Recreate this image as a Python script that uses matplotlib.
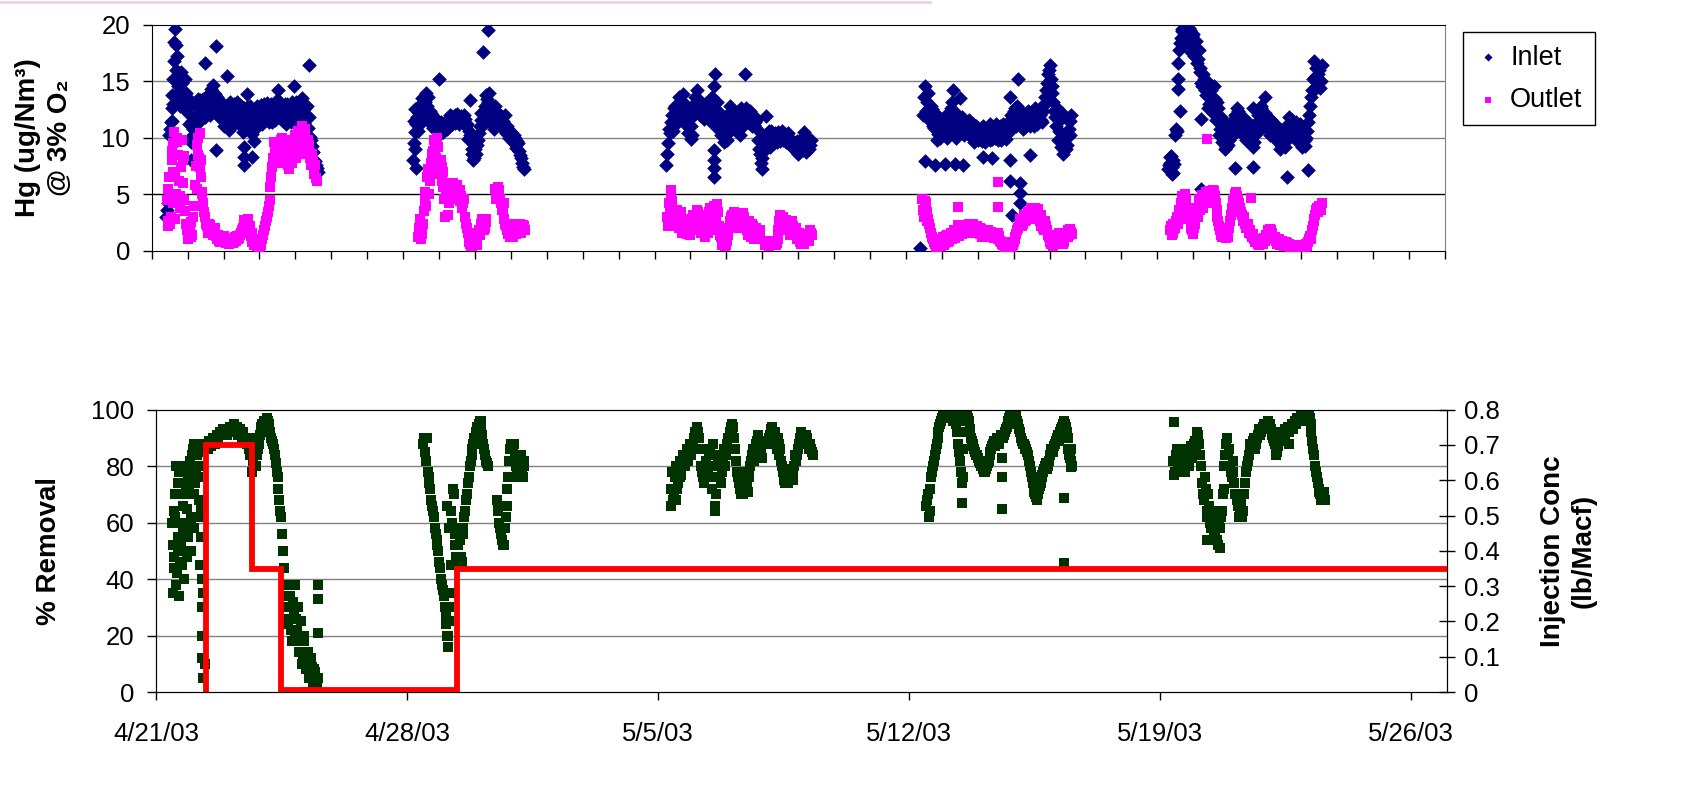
import numpy as np
import matplotlib
matplotlib.use("Agg")
import matplotlib.pyplot as plt
from matplotlib.lines import Line2D

plt.rcParams['font.family'] = ['Liberation Sans', 'DejaVu Sans']

nan = np.nan
step = 0.05   # logger interval in days; x values are days after 4/21/03
# every segment has two readings per interval: "a" on the interval, "b" half an interval later

# ---------------- Hg inlet (ug/Nm3 @ 3% O2) ----------------
inlet_start = [0.40, 7.28, 14.33, 21.48, 28.30]
inlet_1 = [3.0, 4.2, 10.8, 12.6, 15.2, 19.6, 17.2, 15.6, 13.4, 14.8,
           12.6, 14.0, 12.2, 11.2, 9.6, 10.8, 12.9, 11.9, 12.6, 13.3,
           12.1, 12.9, 13.6, 12.3, 13.1, 14.3, 14.7, 13.9, 12.3, 13.1,
           12.5, 11.7, 12.9, 11.6, 12.3, 10.7, 12.6, 11.9, 13.0, 11.5,
           12.3, 11.1, 12.5, 10.5, 11.9, 12.7, 11.3, 12.1, 10.3, 9.7,
           11.6, 12.5, 11.9, 12.9, 11.7, 12.4, 13.1, 12.0, 12.7, 11.4,
           12.9, 12.2, 13.3, 11.8, 12.6, 11.5, 13.0, 12.3, 11.7, 12.8,
           13.2, 11.9, 12.5, 13.1, 11.7, 12.7, 12.1, 11.3, 11.7, 10.9,
           10.1, 9.3, 8.7, 7.9, 7.3]
inlet_1b = [3.6, 10.2, 11.4, 13.8, 16.8, 18.2, 14.6, 12.8, 15.8, 13.2,
            15.2, 12.6, 13.4, 10.0, 11.5, 9.8, 11.8, 13.4, 11.4, 12.2,
            13.4, 11.8, 12.6, 13.8, 12.0, 13.8, 14.0, 12.8, 13.6, 11.8,
            13.2, 12.2, 11.0, 12.8, 11.2, 13.2, 11.0, 12.6, 12.0, 13.2,
            11.8, 12.8, 11.2, 12.6, 10.8, 12.2, 12.8, 11.0, 11.4, 10.8,
            12.8, 11.2, 12.4, 11.2, 13.0, 11.6, 12.6, 11.4, 13.0, 12.0,
            11.6, 12.8, 12.0, 13.2, 11.8, 12.4, 11.2, 13.0, 12.2, 11.4,
            12.6, 11.4, 13.2, 12.2, 12.8, 11.6, 13.0, 12.6, 12.8, 11.8,
            9.8, 8.8, 8.0, 7.6, 7.0]
inlet_2 = [8.0, 10.5, 11.8, 12.8, 11.2, 13.5, 12.4, 14.0, 12.0, 11.4,
           12.2, 10.9, 11.6, 10.6, 11.2, 10.4, 11.0, 10.7, 11.3, 10.8,
           11.5, 11.9, 11.4, 12.0, 11.6, 11.9, 11.5, 11.8, 11.4, 11.7,
           11.2, 10.6, 9.8, 9.0, 8.2, 8.6, 9.8, 11.0, 12.2, 11.5,
           12.8, 13.4, 14.0, 13.0, 11.2, 10.8, 12.4, 11.6, 11.9, 11.2,
           11.5, 10.7, 11.0, 10.3, 10.6, 9.9, 10.2, 9.4, 9.7, 8.8,
           8.2, 7.4]
inlet_2b = [9.5, 11.2, 10.6, 12.2, 13.0, 11.8, 13.2, 12.8, 13.6, 12.4,
            11.2, 11.8, 11.0, 11.6, 10.2, 11.4, 10.5, 11.4, 10.9, 11.2,
            12.0, 11.2, 11.8, 11.3, 12.1, 11.2, 11.9, 11.3, 12.0, 11.0,
            9.9, 10.2, 8.6, 8.0, 9.0, 9.4, 10.4, 11.6, 11.0, 12.4,
            13.8, 13.2, 12.2, 12.0, 11.8, 12.8, 11.4, 12.2, 11.0, 11.8,
            11.2, 10.4, 10.9, 10.0, 10.5, 9.6, 10.0, 9.1, 9.5, 8.5,
            7.8, 7.2]
inlet_3 = [7.6, 9.5, 10.4, 12.0, 11.4, 12.8, 11.9, 13.6, 12.5, 13.9,
           12.2, 11.5, 10.4, 11.8, 10.2, 12.5, 13.6, 14.2, 13.0, 12.3,
           12.8, 11.7, 12.5, 11.9, 12.6, 11.4, 12.9, 15.6, 13.2, 10.8,
           12.1, 11.0, 9.6, 10.9, 9.8, 11.6, 12.4, 11.3, 12.0, 10.8,
           11.5, 10.2, 11.9, 12.4, 11.6, 12.2, 11.8, 11.4, 12.0, 11.1,
           11.6, 9.8, 8.6, 7.2, 8.9, 10.2, 9.4, 10.6, 9.6, 10.3,
           9.5, 10.1, 10.5, 10.0, 10.4, 9.8, 10.3, 9.7, 9.9, 9.4,
           9.2, 9.6, 9.0, 9.3, 8.8, 9.5, 8.9, 9.8, 9.2, 10.0,
           9.4]
inlet_3b = [8.6, 10.8, 11.4, 10.6, 12.6, 11.2, 12.8, 13.0, 12.0, 12.6,
            13.0, 11.0, 12.2, 11.0, 11.8, 13.0, 12.6, 13.4, 12.0, 13.2,
            12.2, 13.0, 11.8, 12.8, 12.2, 13.6, 14.6, 11.6, 12.4, 11.6,
            10.2, 11.8, 10.6, 11.2, 10.4, 12.8, 10.8, 12.4, 11.4, 12.2,
            10.8, 12.6, 11.0, 11.2, 12.6, 11.4, 12.4, 11.0, 11.8, 11.4,
            10.8, 9.0, 7.8, 8.2, 9.6, 9.0, 10.2, 9.2, 10.6, 9.9,
            10.4, 9.6, 10.2, 9.7, 10.6, 10.2, 9.6, 10.4, 9.6, 9.8,
            9.4, 8.9, 9.7, 8.6, 9.8, 9.1, 9.6, 8.7, 9.9, 9.0,
            9.8]
inlet_4 = [12.0, 14.6, 13.2, 12.6, 11.8, 12.5, 10.9, 11.6, 10.3, 11.2,
           10.6, 11.4, 10.2, 11.8, 10.7, 11.5, 12.2, 11.0, 11.7, 10.4,
           11.3, 10.8, 11.6, 10.5, 11.2, 10.3, 11.0, 10.1, 10.8, 9.9,
           10.6, 10.0, 10.9, 9.7, 10.5, 10.1, 10.8, 9.8, 10.4, 10.9,
           10.0, 10.7, 10.2, 11.0, 10.3, 10.8, 9.9, 10.6, 11.2, 12.0,
           11.3, 12.6, 11.5, 12.2, 11.4, 11.9, 11.2, 12.1, 11.6, 12.0,
           11.3, 11.9, 11.5, 12.2, 11.7, 12.0, 11.4, 12.4, 13.6, 14.8,
           16.0, 15.2, 14.0, 12.4, 11.0, 9.8, 11.6, 10.4, 8.6, 11.8,
           9.4, 10.8, 11.5]
inlet_4b = [13.6, 12.4, 14.0, 11.6, 12.8, 11.0, 12.2, 9.8, 11.8, 10.0,
            11.6, 10.4, 12.0, 10.0, 11.2, 12.6, 10.6, 11.2, 10.0, 12.0,
            10.6, 11.8, 10.2, 11.4, 10.8, 11.6, 10.4, 11.2, 9.6, 11.0,
            9.8, 10.6, 10.2, 11.0, 9.6, 10.8, 10.2, 11.2, 9.9, 10.5,
            11.2, 9.8, 10.9, 9.8, 11.2, 10.2, 10.8, 11.4, 10.6, 11.6,
            12.4, 11.0, 12.8, 11.6, 12.4, 10.8, 11.6, 11.0, 12.4, 11.0,
            12.2, 11.0, 12.6, 11.2, 12.4, 11.6, 12.8, 13.0, 14.2, 15.6,
            16.4, 14.6, 13.2, 11.8, 12.6, 10.6, 9.2, 12.2, 10.0, 9.0,
            11.6, 10.2, 12.0]
inlet_5 = [7.2, 7.8, 7.4, 8.0, 10.2, 10.6, 17.8, 18.8, 19.6, 18.9,
           19.8, 18.4, 19.5, 17.6, 19.2, 18.0, 16.6, 17.8, 15.8, 14.6,
           15.2, 13.8, 14.4, 13.0, 14.2, 12.2, 13.4, 11.6, 12.6, 10.8,
           9.6, 10.4, 9.2, 10.6, 9.8, 11.4, 10.6, 12.0, 11.2, 12.4,
           10.9, 11.5, 10.5, 11.2, 10.2, 10.9, 9.8, 10.4, 9.6, 11.2,
           12.0, 11.3, 12.6, 11.6, 12.2, 10.9, 11.4, 10.5, 11.0, 10.1,
           10.6, 9.6, 10.3, 9.4, 10.0, 9.2, 10.4, 11.2, 10.6, 11.6,
           10.8, 11.4, 10.2, 10.8, 9.6, 10.4, 9.3, 10.0, 11.4, 12.8,
           14.2, 16.8, 15.4, 14.6, 16.0, 15.0]
inlet_5b = [7.6, 8.4, 6.9, 7.7, 10.8, 16.6, 18.4, 19.4, 18.2, 19.8,
            18.6, 19.7, 18.8, 19.0, 17.2, 18.6, 17.0, 16.2, 14.8, 15.6,
            14.2, 15.0, 12.6, 13.6, 12.6, 14.6, 11.6, 13.2, 10.2, 11.8,
            10.8, 9.0, 11.2, 9.4, 10.6, 10.2, 11.6, 10.4, 12.6, 11.0,
            12.0, 10.2, 11.6, 9.8, 11.4, 10.4, 11.0, 9.2, 10.6, 10.4,
            11.6, 12.8, 11.0, 12.0, 11.2, 11.8, 10.2, 11.6, 10.4, 11.2,
            9.8, 10.8, 9.0, 10.6, 9.6, 10.8, 9.8, 11.8, 10.2, 11.0,
            10.2, 11.0, 9.6, 11.2, 9.2, 10.8, 9.8, 10.6, 12.0, 13.6,
            15.2, 14.2, 16.2, 15.6, 14.4, 16.4]
inlet_odd_day = [1.47, 1.79, 2.09, 4.37, 1.79, 1.10, 2.64, 2.58, 2.58, 2.58,
                 2.79, 3.52, 3.97, 4.17, 0.62, 0.68, 0.72, 0.55, 0.60,
                 7.36, 8.00, 9.23, 9.37, 8.86, 9.83, 7.32, 7.30, 7.34,
                 16.53, 15.66, 15.66, 15.66, 15.66, 15.02, 17.09, 18.15,
                 21.40, 21.53, 21.81, 22.09, 22.37, 22.60, 22.32, 22.28, 22.51, 23.16,
                 23.39, 23.90, 24.45, 24.13, 23.90, 23.90, 24.18, 24.18, 24.18, 23.94,
                 29.23, 29.21, 30.16, 30.67, 31.60, 32.20, 28.63, 28.58, 28.58, 30.67,
                 31.00, 28.35, 28.40]
inlet_odd_val = [16.6, 18.1, 15.5, 16.4, 8.9, 8.0, 13.9, 9.2, 8.3, 7.6,
                 8.3, 14.2, 14.6, 13.5, 18.5, 16.0, 14.0, 11.5, 13.0,
                 7.3, 15.2, 17.6, 19.5, 13.3, 12.0, 9.0, 11.5, 12.5,
                 15.6, 8.9, 8.0, 7.3, 6.5, 9.9, 11.9, 10.5,
                 0.2, 7.9, 7.6, 7.7, 7.7, 7.6, 14.2, 13.2, 13.5, 8.3,
                 8.2, 8.0, 8.5, 15.2, 13.6, 6.2, 6.0, 5.1, 4.2, 3.2,
                 11.7, 5.5, 7.3, 7.4, 6.5, 7.1, 12.4, 14.3, 15.2, 12.6,
                 13.6, 8.3, 6.8]

# ---------------- Hg outlet ----------------
outlet_start = [0.43, 7.42, 14.35, 21.45, 28.35]
outlet_1 = [4.5, 6.5, 3.0, 7.0, 10.5, 5.0, 8.5, 3.8, 9.8, 6.0,
            3.5, 1.8, 1.2, 2.5, 1.4, 4.0, 7.5, 10.0, 10.4, 6.5,
            4.2, 3.0, 2.2, 1.8, 2.3, 2.0, 1.6, 1.3, 1.1, 0.9,
            1.2, 0.8, 1.0, 0.7, 0.9, 0.8, 1.1, 0.8, 1.0, 1.3,
            1.1, 1.6, 2.0, 2.7, 2.4, 2.8, 2.2, 1.6, 1.0, 0.6,
            0.4, 0.3, 0.5, 1.0, 1.8, 2.6, 3.4, 4.5, 6.5, 8.2,
            9.0, 8.2, 9.6, 8.6, 10.0, 9.2, 8.0, 9.4, 7.2, 9.8,
            8.4, 10.2, 8.8, 10.6, 9.4, 11.0, 9.6, 10.2, 8.6, 9.4,
            7.6, 8.0, 7.0, 6.4]
outlet_1b = [2.6, 5.0, 8.8, 4.2, 6.5, 9.6, 4.8, 7.4, 4.6, 8.4,
             2.4, 1.0, 2.0, 1.2, 3.0, 5.8, 9.4, 8.2, 7.4, 5.0,
             3.4, 2.4, 1.6, 2.4, 1.8, 1.4, 2.0, 1.0, 1.4, 0.8,
             0.9, 1.3, 0.8, 1.1, 0.6, 1.0, 0.7, 1.2, 0.9, 1.0,
             1.4, 1.8, 2.4, 2.0, 2.6, 1.8, 1.3, 0.8, 0.5, 0.9,
             0.6, 0.4, 0.8, 1.4, 2.2, 3.0, 4.0, 5.6, 7.4, 9.6,
             8.4, 9.4, 7.8, 9.8, 8.4, 9.8, 8.8, 7.6, 9.0, 7.8,
             9.6, 8.2, 9.8, 8.6, 10.4, 8.8, 10.8, 9.0, 9.8, 8.2,
             8.6, 6.8, 7.6, 6.2]
outlet_2 = [1.2, 2.8, 1.5, 3.5, 5.2, 6.5, 5.0, 7.8, 8.8, 9.8,
            8.2, 9.2, 6.8, 7.4, 5.6, 3.0, 5.5, 4.2, 5.8, 5.2,
            5.6, 4.8, 5.2, 4.4, 4.8, 4.2, 3.0, 2.0, 1.2, 0.6,
            0.4, 0.5, 0.8, 1.2, 1.8, 2.4, 2.6, 2.0, 2.5, nan,
            nan, nan, nan, 5.5, 4.8, 5.4, 4.2, 3.6, 2.8, 2.2,
            1.5, 1.2, 1.6, 2.1, 1.8, 2.2, 1.7, 2.0, 1.9, 2.2]
outlet_2b = [2.0, 1.0, 2.4, 4.4, 4.0, 7.2, 6.2, 8.6, 7.4, 9.0,
             9.6, 7.6, 8.0, 6.2, 4.6, 5.0, 3.2, 6.0, 4.6, 6.0,
             5.0, 5.8, 4.6, 5.4, 3.8, 4.6, 2.4, 1.6, 0.8, 0.4,
             0.6, 0.9, 0.5, 1.6, 1.4, 2.8, 1.8, 2.8, nan, nan,
             nan, nan, nan, 4.6, 5.6, 4.6, 3.6, 4.2, 2.4, 1.8,
             2.0, 1.6, 1.2, 2.4, 1.5, 1.9, 2.4, 1.6, 2.3, 1.8]
outlet_3 = [3.0, 4.2, 5.4, 2.6, 3.6, 2.4, 3.2, 2.2, 2.8, 1.8,
            2.4, 1.5, 1.9, 2.8, 2.2, 3.0, 2.4, 3.4, 2.0, 1.6,
            2.8, 1.2, 3.2, 2.4, 3.8, 2.6, 4.0, 2.8, 4.1, 2.2,
            1.2, 0.6, 0.8, 0.5, 1.4, 2.6, 3.2, 2.5, 3.3, 2.8,
            2.0, 3.2, 2.4, 3.0, 2.6, 1.4, 2.2, 1.6, 2.2, 1.2,
            1.8, 1.0, 1.6, nan, nan, 0.6, 0.9, 0.5, 0.8, 0.6,
            0.9, 0.7, 1.8, 3.2, 2.6, 2.2, 2.7, 1.8, 2.4, 1.6,
            2.2, 1.5, 2.0, 1.2, 0.8, 1.4, 0.6, 1.0, 1.5, 0.9,
            1.6]
outlet_3b = [2.2, 3.6, 4.4, 3.2, 2.2, 3.6, 2.0, 3.4, 1.6, 2.6,
             1.6, 2.6, 1.4, 2.4, 3.2, 1.8, 2.8, 2.4, 3.0, 2.4,
             1.6, 2.6, 1.6, 3.4, 1.8, 3.0, 3.6, 2.0, 3.4, 1.4,
             0.5, 1.2, 0.4, 0.9, 2.0, 3.0, 2.2, 3.4, 2.4, 3.3,
             2.6, 2.2, 3.3, 2.0, 1.8, 2.6, 1.2, 2.4, 1.0, 2.0,
             1.2, 1.8, nan, nan, 0.5, 0.8, 0.4, 0.7, 0.5, 0.8,
             0.5, 1.0, 2.6, 2.8, 3.0, 1.8, 2.6, 2.0, 1.4, 2.6,
             1.8, 1.6, 1.0, 1.6, 0.6, 1.2, 0.8, 1.4, 1.2, 1.8,
             1.4]
outlet_4 = [4.6, 3.0, 4.2, 3.4, 2.4, 1.6, 1.0, 0.6, 0.4, 0.3,
            0.6, 0.9, 0.5, 1.0, 1.4, 0.9, 1.6, 1.2, 1.8, 1.4,
            1.9, 1.5, 2.0, 1.7, 2.3, 1.9, 2.4, 2.0, 1.6, 2.2,
            1.7, 2.0, 1.5, 1.9, 1.4, 1.8, 1.3, 1.6, 1.2, 1.5,
            1.1, 1.4, 1.0, 1.3, 0.8, 0.5, 0.3, 0.4, 0.2, 0.5,
            0.3, 0.8, 1.2, 1.8, 2.2, 2.6, 2.4, 3.0, 2.7, 3.4,
            3.0, 3.6, 3.1, 3.8, 3.4, 3.0, 2.2, 2.6, 1.8, 2.2,
            1.4, 1.0, 0.6, 0.4, 0.8, 1.2, 1.6, 1.0, 1.5, 0.8,
            1.3, 1.8, 1.4, 1.7]
outlet_4b = [3.6, 4.4, 2.6, 2.8, 2.0, 1.2, 0.8, 0.3, 0.6, 0.5,
             0.4, 1.2, 0.7, 1.3, 0.8, 1.4, 1.0, 1.6, 1.1, 1.7,
             1.3, 1.8, 1.5, 2.1, 1.6, 2.2, 1.7, 2.3, 2.4, 1.8,
             2.2, 1.6, 2.0, 1.2, 1.7, 1.5, 1.8, 1.3, 1.7, 1.2,
             1.5, 1.2, 1.6, 0.9, 0.6, 0.8, 0.4, 0.2, 0.6, 0.3,
             0.5, 1.0, 1.5, 2.0, 2.8, 2.2, 3.2, 2.6, 3.0, 3.2,
             3.8, 2.8, 3.4, 3.2, 3.7, 2.6, 3.2, 2.0, 2.6, 1.8,
             1.2, 0.8, 0.9, 0.6, 1.0, 1.4, 0.8, 1.3, 0.6, 1.2,
             1.6, 1.2, 1.9, 1.5]
outlet_5 = [1.8, 1.4, 2.4, 2.0, 3.0, 3.6, 4.2, 4.8, 3.8, 4.6,
            2.8, 3.4, 2.0, 1.5, 2.4, 3.8, 4.6, 3.6, 4.9, 4.2,
            5.2, 4.4, 5.3, 4.6, 5.4, 4.8, 3.6, 2.6, 1.8, 1.2,
            1.6, 1.1, 1.5, 2.0, 3.2, 4.4, 5.0, 5.2, 4.6, 3.8,
            3.2, 2.8, 2.4, 2.0, 1.6, 1.5, 1.2, 1.0, 0.8, 0.6,
            0.7, 1.0, 0.6, 0.9, 1.2, 1.6, 1.9, 1.6, 1.2, 0.9,
            0.7, 0.9, 0.6, 0.8, 0.5, 0.7, 0.4, 0.3, 0.5, 0.3,
            0.2, 0.4, 0.2, 0.3, 0.5, 0.3, 0.6, 0.8, 1.3, 1.8,
            2.6, 3.2, 3.8, 4.0, 3.6]
outlet_5b = [2.2, 1.6, 1.9, 2.6, 2.4, 3.2, 3.8, 4.4, 4.2, 3.6,
             3.8, 2.4, 1.8, 2.0, 3.2, 3.0, 4.2, 4.4, 3.8, 4.8,
             4.6, 5.0, 4.2, 5.0, 4.4, 4.2, 3.0, 2.2, 1.4, 1.6,
             1.2, 1.8, 1.2, 2.6, 3.8, 4.6, 4.4, 4.8, 4.2, 3.4,
             2.6, 3.0, 2.0, 2.4, 1.8, 1.3, 1.5, 0.8, 1.0, 0.5,
             0.9, 0.7, 1.1, 1.4, 1.8, 1.4, 1.8, 1.0, 1.2, 0.6,
             1.0, 0.5, 0.9, 0.4, 0.8, 0.5, 0.6, 0.2, 0.4, 0.5,
             0.3, 0.2, 0.4, 0.2, 0.3, 0.5, 0.4, 1.0, 1.0, 2.2,
             2.8, 3.6, 3.4, 3.8, 4.2]
outlet_odd_day = [0.46, 0.50, 0.55, 0.60, 0.66, 0.70, 0.75, 0.80, 0.86, 0.90,
                  1.26, 1.30, 1.36, 1.40, 0.45, 0.52,
                  8.10, 8.20, 7.95, 7.90,
                  14.46, 15.19, 16.02,
                  22.46, 22.46, 23.57, 23.57,
                  29.39, 30.62, 28.78, 29.58]
outlet_odd_val = [5.5, 2.4, 8.0, 9.5, 2.8, 10.0, 6.2, 4.8, 8.0, 4.5,
                  5.5, 8.5, 8.0, 5.2, 2.2, 5.0,
                  7.0, 6.0, 10.0, 7.0,
                  5.0, 3.6, 2.0,
                  3.9, 2.3, 6.1, 3.9,
                  9.9, 4.7, 5.0, 5.3]

# ---------------- % removal ----------------
removal_start = [0.44, 7.45, 14.35, 21.47, 28.37]
removal_1 = [60, 48, 70, 42, 78, 52, 66, 40, 72, 55,
             82, 62, 86, 74, 84, 68, 45, 20, 87, 88,
             86, 89, 87, 90, 88, 91, 90, 92, 91, 93,
             92, 91, 93, 94, 93, 94, 92, 91, 93, 90,
             92, 90, 88, 86, 90, 78, 88, 80, 86, 91,
             93, 94, 96, 97, 95, 92, 89, 86, 81, 76,
             68, 62, 50, 38, 30, 24, 34, 18, 28, 38,
             22, 14, 25, 12, 18, 8, 14, 6, 9, 4,
             7, 2]
removal_1b = [52, 64, 38, 74, 46, 80, 58, 70, 48, 78,
              60, 84, 70, 88, 76, 86, 62, 35, 10, 86,
              88, 87, 89, 88, 90, 89, 91, 92, 93, 92,
              93, 92, 94, 93, 95, 93, 94, 92, 91, 92,
              90, 89, 90, 84, 88, 82, 80, 84, 88, 94,
              95, 96, 94, 96, 93, 90, 88, 84, 78, 72,
              64, 56, 44, 34, 26, 30, 22, 32, 20, 26,
              30, 18, 10, 20, 14, 10, 5, 12, 3, 8,
              3, 5]
removal_2 = [88, 85, 90, 76, 72, 66, 62, 56, 52, 46,
             40, 36, 30, 24, 16, 35, 60, 70, 52, 46,
             58, 48, 56, 62, 68, 74, 80, 84, 88, 90,
             94, 95, 96, 91, 86, 82, 80, nan, nan, nan,
             nan, 68, 64, 58, 54, 52, 62, 72, 82, 88,
             86, 84, 80, 76, 82, 78, 80]
removal_2b = [90, 82, 78, 74, 68, 64, 58, 54, 50, 44,
              38, 34, 26, 20, 30, 64, 72, 56, 48, 52,
              54, 46, 58, 64, 70, 76, 82, 86, 90, 92,
              93, 96, 94, 88, 84, 81, nan, nan, nan, nan,
              nan, 66, 60, 56, 52, 58, 66, 76, 86, 86,
              88, 82, 78, 80, 84, 76, 82]
removal_3 = [66, 78, 70, 80, 74, 82, 77, 84, 80, 86,
             84, 88, 86, 90, 92, 94, 90, 80, 76, 78,
             82, 78, 86, 72, 84, 66, 76, 80, 74, 82,
             86, 84, 90, 92, 95, 94, 86, 78, 74, 70,
             76, 72, 78, 71, 76, 82, 86, 84, 89, 91,
             87, 83, nan, nan, nan, 90, 93, 92, 90, 88,
             90, 86, 80, 76, 74, 78, 76, 79, 75, 80,
             82, 86, 90, 92, 91, 88, 90, 86, 87, 85]
removal_3b = [72, 68, 76, 72, 78, 76, 80, 82, 84, 82,
              86, 84, 88, 92, 93, 92, 86, 78, 74, 80,
              76, 84, 80, 88, 76, 70, 82, 76, 78, 84,
              80, 88, 86, 94, 92, 90, 82, 76, 72, 74,
              70, 76, 74, 78, 80, 84, 82, 88, 86, 89,
              85, nan, nan, nan, 88, 91, 94, 89, 92, 86,
              88, 82, 78, 75, 77, 74, 78, 76, 78, 84,
              84, 88, 92, 90, 89, 91, 88, 88, 86, 84]
removal_4 = [66, 70, 64, 76, 80, 84, 88, 92, 95, 97,
             99, 98, 99, 97, 98, 96, 98, 95, 88, 82,
             74, 92, 98, 99, 96, 90, 88, 86, 84, 83,
             81, 80, 79, 78, 80, 82, 85, 87, 89, 88,
             90, 89, 91, 90, 92, 94, 96, 98, 99, 99,
             98, 96, 93, 90, 88, 87, 86, 84, 80, 76,
             72, 70, 68, 72, 74, 77, 79, 81, 80, 84,
             86, 85, 88, 90, 89, 92, 94, 96, 94, 90,
             84, 82]
removal_4b = [68, 62, 72, 78, 82, 86, 90, 94, 96, 98,
              97, 99, 98, 99, 97, 99, 96, 92, 85, 78,
              86, 96, 99, 97, 93, 89, 87, 85, 84, 82,
              80, 81, 78, 79, 81, 84, 86, 88, 87, 90,
              88, 90, 91, 91, 93, 95, 97, 98, 100, 98,
              97, 95, 92, 89, 88, 86, 85, 82, 78, 74,
              71, 69, 70, 73, 76, 78, 80, 79, 82, 85,
              86, 87, 89, 91, 91, 93, 95, 95, 92, 86,
              83, 80]
removal_5 = [82, 78, 86, 80, 84, 79, 85, 81, 86, 82,
             87, 84, 89, 92, 90, 84, 74, 68, 72, 62,
             66, 58, 62, 55, 60, 52, 58, 64, 72, 84,
             90, 86, 78, 82, 74, 70, 66, 63, 68, 64,
             74, 80, 84, 88, 86, 90, 88, 91, 93, 92,
             94, 95, 94, 96, 95, 91, 89, 86, 85, 89,
             92, 90, 93, 92, 94, 93, 95, 94, 96, 97,
             96, 98, 97, 99, 100, 99, 97, 92, 86, 80,
             76, 72, 70, 69, 71]
removal_5b = [77, 84, 79, 86, 81, 84, 78, 84, 80, 85,
              83, 88, 86, 91, 88, 80, 70, 76, 64, 70,
              60, 64, 56, 62, 54, 60, 62, 70, 80, 88,
              84, 80, 76, 78, 70, 68, 62, 66, 62, 70,
              78, 82, 86, 87, 89, 86, 90, 92, 91, 93,
              95, 93, 95, 94, 93, 90, 88, 84, 87, 90,
              91, 92, 91, 93, 92, 94, 93, 95, 95, 96,
              97, 96, 98, 98, 99, 98, 95, 89, 84, 78,
              74, 71, 68, 70, 68]
removal_odd_day = [0.47, 0.50, 0.52, 0.57, 0.60, 0.62, 0.65, 0.67, 0.70, 0.72,
                   0.77, 0.80, 0.82, 0.87, 0.90, 0.92, 0.97, 1.00, 1.02, 1.05,
                   1.07, 1.12, 1.17, 1.21, 1.26, 1.26, 1.27, 1.28, 1.29, 1.30,
                   4.53, 4.53, 4.53, 4.20,
                   8.10, 8.12, 8.13, 8.17, 8.18, 8.22,
                   14.50, 15.60, 17.38,
                   22.48, 22.50, 23.58, 23.58, 23.58, 25.32, 25.32, 25.51, 25.51,
                   28.40, 29.30, 29.68, 31.60]
removal_odd_val = [35, 44, 62, 80, 55, 50, 34, 70, 60, 45,
                   58, 50, 80, 65, 75, 72, 50, 80, 75, 58,
                   88, 78, 85, 80, 65, 55, 40, 30, 12, 5,
                   38, 33, 21, 0,
                   28, 66, 20, 58, 25, 45,
                   68, 64, 84,
                   67, 76, 83, 76, 65, 68.6, 45.6, 79.8, 86,
                   95.7, 53.8, 51, 88]

# ---------------- sorbent injection (lb/Macf), step changes ----------------
inj_day = [1.40, 1.40, 2.67, 3.49, 8.38, 36.0]
inj_conc = [0.0, 0.70, 0.35, 0.007, 0.35, 0.35]

date_ticks = [0, 7, 14, 21, 28, 35]
date_labels = ['4/21/03', '4/28/03', '5/5/03', '5/12/03', '5/19/03', '5/26/03']


def stack(starts, segs, offset=0.0):
    t, v = [], []
    for t0, vals in zip(starts, segs):
        t += [t0 + offset + step * i for i in range(len(vals))]
        v += vals
    return np.array(t), np.array(v, dtype=float)


def readings(starts, segs_a, segs_b, odd_day, odd_val):
    ta, va = stack(starts, segs_a)
    tb, vb = stack(starts, segs_b, step / 2)
    return (np.concatenate([ta, tb, odd_day]),
            np.concatenate([va, vb, odd_val]))


t_in, v_in = readings(inlet_start, [inlet_1, inlet_2, inlet_3, inlet_4, inlet_5],
                      [inlet_1b, inlet_2b, inlet_3b, inlet_4b, inlet_5b],
                      inlet_odd_day, inlet_odd_val)
t_out, v_out = readings(outlet_start, [outlet_1, outlet_2, outlet_3, outlet_4, outlet_5],
                        [outlet_1b, outlet_2b, outlet_3b, outlet_4b, outlet_5b],
                        outlet_odd_day, outlet_odd_val)
t_rm, v_rm = readings(removal_start, [removal_1, removal_2, removal_3, removal_4, removal_5],
                      [removal_1b, removal_2b, removal_3b, removal_4b, removal_5b],
                      removal_odd_day, removal_odd_val)

navy = '#000080'
magenta = '#FF00FF'
green = '#003300'
grid_c = '#808080'
fs_tick = 18.5
fs_lab = 20
s_in, s_out, s_rm = 56, 54, 50

fig = plt.figure(figsize=(16.9, 7.87), dpi=100)
fig.add_artist(Line2D([0, 0.55], [0.998, 0.998], color='#efcfe8', lw=2))

# ---- top: Hg concentrations ----
ax1 = fig.add_axes([0.0898, 0.6814, 0.7650, 0.2872])
ax1.scatter(t_in, v_in, marker='D', s=s_in, color=navy, linewidths=0, label='Inlet', zorder=3)
ax1.scatter(t_out, v_out, marker='s', s=s_out, color=magenta, linewidths=0, label='Outlet', zorder=4)
ax1.set_xlim(0, 36)
ax1.set_ylim(0, 20)
ax1.set_xticks(range(37))
ax1.set_yticks([0, 5, 10, 15, 20])
ax1.tick_params(axis='x', direction='out', length=5.8, width=1, labelbottom=False)
ax1.tick_params(axis='y', direction='out', length=6.5, width=1, pad=9, labelsize=fs_tick)
for y in (10, 15):
    ax1.axhline(y, color=grid_c, lw=1, zorder=1)
ax1.axhline(5, color='black', lw=1, zorder=1)
ax1.spines['right'].set_color(grid_c)
ax1.text(-0.083, 0.5, 'Hg (ug/Nm\u00b3)\n@ 3% O\u2082', transform=ax1.transAxes,
         rotation=90, ha='center', va='center', multialignment='center',
         fontsize=fs_lab, fontweight='bold', linespacing=1.3)
leg = ax1.legend(loc='upper left', bbox_to_anchor=(1.014, 0.966), borderaxespad=0,
                 fancybox=False, edgecolor='black', framealpha=1, fontsize=19.5,
                 markerscale=0.55, handletextpad=0.3, handlelength=1.0,
                 borderpad=0.45, labelspacing=0.6)
leg.get_frame().set_linewidth(1)

# ---- bottom: removal and injection ----
ax2 = fig.add_axes([0.0923, 0.1207, 0.7639, 0.3587])
ax2.scatter(t_rm, v_rm, marker='s', s=s_rm, color=green, linewidths=0, zorder=3)
ax2.set_xlim(0, 36)
ax2.set_ylim(0, 100)
ax2.set_xticks(date_ticks)
ax2.set_xticklabels(date_labels)
ax2.set_yticks(range(0, 101, 20))
ax2.tick_params(axis='x', direction='out', length=5.8, width=1, pad=16, labelsize=fs_tick)
ax2.tick_params(axis='y', direction='out', length=6.5, width=1, pad=9, labelsize=fs_tick)
for y in (20, 40, 60, 80):
    ax2.axhline(y, color=grid_c, lw=1, zorder=1)
ax2.text(-0.083, 0.5, '% Removal', transform=ax2.transAxes, rotation=90,
         ha='center', va='center', fontsize=fs_lab, fontweight='bold')

ax3 = ax2.twinx()
ax3.plot(inj_day, inj_conc, color='#FF0000', lw=4.2, drawstyle='steps-post',
         solid_joinstyle='miter', zorder=5)
ax3.set_ylim(0, 0.8)
ax3.set_yticks(np.arange(0, 0.81, 0.1))
ax3.set_yticklabels(['0', '0.1', '0.2', '0.3', '0.4', '0.5', '0.6', '0.7', '0.8'])
ax3.tick_params(axis='y', direction='inout', length=12, width=1, pad=6, labelsize=fs_tick)
ax3.text(1.094, 0.5, 'Injection Conc\n(lb/Macf)', transform=ax3.transAxes, rotation=90,
         ha='center', va='center', multialignment='center',
         fontsize=fs_lab, fontweight='bold', linespacing=1.25)

fig.savefig('out.png', dpi=100)
